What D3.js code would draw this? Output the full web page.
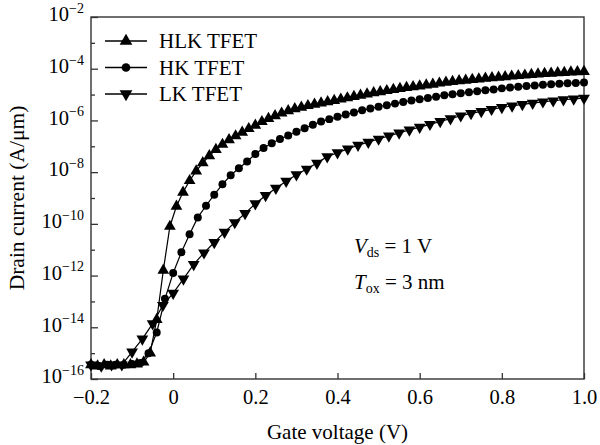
<!DOCTYPE html>
<html><head><meta charset="utf-8">
<script src="https://cdn.jsdelivr.net/npm/d3@7"></script>
<style>
body{margin:0;background:#fff;}
svg{display:block;font-family:"Liberation Serif","Times New Roman",serif;}
</style></head>
<body><svg id="chart" width="600" height="445"></svg>
<script>
// ---- data (log10 of drain current, A/um) ----
const vgsHLK = d3.range(0, 76).map(k => +(-0.2 + 0.016 * k).toFixed(3));
const logIdHLK = [-15.45,-15.5,-15.45,-15.5,-15.45,-15.45,-15.45,-15.42,-15.35,-15.0,
  -13.7,-11.8,-10.1,-9.32,-8.78,-8.33,-7.96,-7.64,-7.37,-7.13,
  -6.93,-6.75,-6.60,-6.46,-6.32,-6.19,-6.05,-5.93,-5.82,-5.72,
  -5.63,-5.55,-5.49,-5.43,-5.38,-5.33,-5.28,-5.23,-5.18,-5.13,
  -5.08,-5.03,-4.98,-4.93,-4.89,-4.85,-4.81,-4.77,-4.73,-4.70,
  -4.67,-4.63,-4.60,-4.56,-4.53,-4.50,-4.47,-4.45,-4.42,-4.40,
  -4.37,-4.35,-4.33,-4.31,-4.29,-4.27,-4.25,-4.23,-4.21,-4.19,
  -4.18,-4.16,-4.15,-4.13,-4.12,-4.11];
const vgsHK = d3.range(0, 61).map(k => +(-0.2 + 0.02 * k).toFixed(3));
const logIdHK = [-15.45,-15.5,-15.45,-15.45,-15.45,-15.42,-15.38,-15.0,-14.2,-12.9,
  -11.9,-11.1,-10.4,-9.75,-9.3,-8.87,-8.47,-8.12,-7.85,-7.59,
  -7.3,-7.07,-6.88,-6.72,-6.58,-6.44,-6.3,-6.17,-6.04,-5.95,
  -5.86,-5.77,-5.69,-5.61,-5.54,-5.47,-5.41,-5.35,-5.29,-5.23,
  -5.18,-5.13,-5.08,-5.03,-4.99,-4.95,-4.91,-4.87,-4.83,-4.80,
  -4.76,-4.73,-4.70,-4.67,-4.65,-4.62,-4.60,-4.58,-4.56,-4.55,-4.53];
const vgsLK = d3.range(0, 49).map(k => +(-0.2 + 0.025 * k).toFixed(3));
const logIdLK = [-15.45,-15.5,-15.45,-15.45,-14.95,-14.45,-13.86,-13.15,-12.68,-12.13,
  -11.57,-11.12,-10.72,-10.32,-9.95,-9.6,-9.22,-8.9,-8.62,-8.35,
  -8.1,-7.88,-7.65,-7.40,-7.25,-7.1,-6.96,-6.84,-6.72,-6.6,
  -6.48,-6.37,-6.26,-6.15,-6.04,-5.93,-5.82,-5.73,-5.65,-5.57,
  -5.5,-5.44,-5.38,-5.33,-5.28,-5.24,-5.2,-5.17,-5.14];
const seriesNames = ["HLK TFET", "HK TFET", "LK TFET"];
const xTicks = [-0.2, 0, 0.2, 0.4, 0.6, 0.8, 1.0];
const xTickLabels = ["\u22120.2", "0", "0.2", "0.4", "0.6", "0.8", "1.0"];
const yMajorExp = [-2, -4, -6, -8, -10, -12, -14, -16];
const yMinorExp = [-3, -5, -7, -9, -11, -13, -15];

// ---- layout ----
const L = 91, R = 584, T = 17, B = 379;
const FS = 20.5, FSS = 14;
const svg = d3.select("#chart");
const x = d3.scaleLinear().domain([-0.2, 1.0]).range([L, R]);
const y = d3.scaleLog().domain([1e-16, 1e-2]).range([B, T]);
const axisColor = "#333";

// plot frame
svg.append("rect").attr("x", L).attr("y", T).attr("width", R - L).attr("height", B - T)
  .attr("fill", "none").attr("stroke", axisColor).attr("stroke-width", 1.4);

// x axis
const gx = svg.append("g").attr("transform", `translate(0,${B})`)
  .call(d3.axisBottom(x).tickValues(xTicks).tickSizeInner(-6).tickSizeOuter(0).tickPadding(10)
    .tickFormat((d, i) => xTickLabels[i]));
gx.select(".domain").remove();
gx.selectAll("line").attr("stroke", axisColor).attr("stroke-width", 1.3);
gx.selectAll("text").attr("font-size", FS).attr("fill", "#000").attr("font-family", "Liberation Serif");

// y axis major
const gy = svg.append("g").attr("transform", `translate(${L},0)`)
  .call(d3.axisLeft(y).tickValues(yMajorExp.map(e => Math.pow(10, e))).tickSizeInner(-7).tickSizeOuter(0)
    .tickFormat(() => ""));
gy.select(".domain").remove();
gy.selectAll("line").attr("stroke", axisColor).attr("stroke-width", 1.3);
gy.selectAll(".tick").each(function (d, i) {
  const t = d3.select(this).append("text").attr("x", -7).attr("dy", "0.38em")
    .attr("text-anchor", "end").attr("fill", "#000").attr("font-family", "Liberation Serif");
  t.append("tspan").attr("font-size", FS).text("10");
  t.append("tspan").attr("font-size", FSS).attr("dy", "-0.6em").text("\u2212" + Math.abs(yMajorExp[i]));
});
// y axis minor
const gym = svg.append("g").attr("transform", `translate(${L},0)`)
  .call(d3.axisLeft(y).tickValues(yMinorExp.map(e => Math.pow(10, e))).tickSizeInner(-4).tickSizeOuter(0)
    .tickFormat(() => ""));
gym.select(".domain").remove();
gym.selectAll("line").attr("stroke", axisColor).attr("stroke-width", 1.3);

// axis titles
svg.append("text").attr("x", (L + R) / 2).attr("y", 439).attr("text-anchor", "middle")
  .attr("font-size", 21).text("Gate voltage (V)");
svg.append("text").attr("transform", `translate(24,${(T + B) / 2}) rotate(-90)`)
  .attr("text-anchor", "middle").attr("font-size", 21.5).text("Drain current (A/\u03bcm)");

// series
const data = [
  { name: seriesNames[0], v: vgsHLK, l: logIdHLK, sym: d3.symbolTriangle, rot: 0, size: 60 },
  { name: seriesNames[1], v: vgsHK, l: logIdHK, sym: d3.symbolCircle, rot: 0, size: 50 },
  { name: seriesNames[2], v: vgsLK, l: logIdLK, sym: d3.symbolTriangle, rot: 180, size: 60 }
];
const line = d3.line().x(d => x(d[0])).y(d => y(Math.pow(10, d[1])));
const plot = svg.append("g");
data.forEach(s => {
  const pts = s.v.map((v, i) => [v, s.l[i]]);
  plot.append("path").attr("d", line(pts)).attr("fill", "none").attr("stroke", "#000").attr("stroke-width", 1.2);
  const sym = d3.symbol().type(s.sym).size(s.size);
  plot.selectAll(null).data(pts).enter().append("path")
    .attr("d", sym)
    .attr("transform", d => `translate(${x(d[0])},${y(Math.pow(10, d[1]))}) rotate(${s.rot})`)
    .attr("fill", "#000");
});

// legend
const lg = svg.append("g");
data.forEach((s, i) => {
  const yy = 41 + i * 26.5;
  lg.append("line").attr("x1", 105).attr("x2", 147).attr("y1", yy).attr("y2", yy)
    .attr("stroke", "#000").attr("stroke-width", 1.3);
  lg.append("path").attr("d", d3.symbol().type(s.sym).size(s.size + 10)())
    .attr("transform", `translate(126,${yy}) rotate(${s.rot})`).attr("fill", "#000");
  lg.append("text").attr("x", 159).attr("y", yy).attr("dy", "0.35em").attr("font-size", 21).text(s.name);
});

// annotation
const a1 = svg.append("text").attr("x", 354).attr("y", 253).attr("font-size", 21);
a1.append("tspan").attr("font-style", "italic").text("V");
a1.append("tspan").attr("font-size", 14).attr("dy", 4).text("ds");
a1.append("tspan").attr("dy", -4).text(" = 1 V");
const a2 = svg.append("text").attr("x", 354).attr("y", 289).attr("font-size", 21);
a2.append("tspan").attr("font-style", "italic").text("T");
a2.append("tspan").attr("font-size", 14).attr("dy", 4).text("ox");
a2.append("tspan").attr("dy", -4).text(" = 3 nm");
</script>
</body></html>
